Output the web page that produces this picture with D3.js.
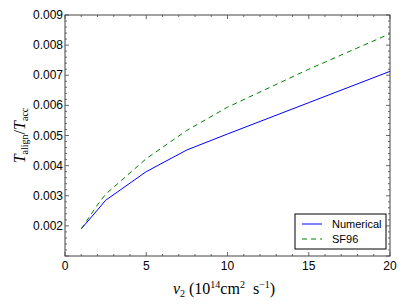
<!DOCTYPE html>
<html><head><meta charset="utf-8">
<script src="https://cdn.jsdelivr.net/npm/d3@7"></script>
<style>body{margin:0;background:#fff}svg{display:block}</style>
</head><body>
<svg id="c" width="407" height="305"></svg>
<script>
const nu2 = [1, 2, 2.5, 5, 7.5, 10, 15, 20];
const numerical = [0.0019, 0.00253, 0.00285, 0.0038, 0.00452, 0.00505, 0.00609, 0.00713];
const sf96 = [0.0019, 0.0027, 0.00305, 0.00423, 0.00517, 0.00594, 0.0072, 0.00838];
const xTicks = [0, 5, 10, 15, 20];
const yTicks = [0.002, 0.003, 0.004, 0.005, 0.006, 0.007, 0.008, 0.009];
const seriesNames = ["Numerical", "SF96"];

const svg = d3.select("#c");
const L = 65, R = 390, T = 15, B = 256;
const x = d3.scaleLinear().domain([0, 20]).range([L, R]);
const y = d3.scaleLinear().domain([0.001, 0.009]).range([B, T]);
const frame = "#444";

// lines
const line = d3.line().x((d, i) => x(nu2[i])).y(d => y(d));
svg.append("path").datum(numerical).attr("d", line)
  .attr("fill", "none").attr("stroke", "#0000ff").attr("stroke-width", 1);
svg.append("path").datum(sf96).attr("d", line)
  .attr("fill", "none").attr("stroke", "#008000").attr("stroke-width", 1)
  .attr("stroke-dasharray", "5,4");

// ticks (inward, all sides)
const g = svg.append("g");
const xMinor = d3.range(0, 20.01, 1);
const yMinor = d3.range(0.001, 0.00901, 0.0002);
xMinor.forEach(v => {
  const len = Math.round(v) % 5 === 0 ? 4 : 2;
  g.append("line").attr("x1", x(v)).attr("x2", x(v)).attr("y1", B).attr("y2", B - len).attr("stroke", frame).attr("stroke-width", 0.8);
  g.append("line").attr("x1", x(v)).attr("x2", x(v)).attr("y1", T).attr("y2", T + len).attr("stroke", frame).attr("stroke-width", 0.8);
});
yMinor.forEach(v => {
  const isMajor = Math.abs(v * 1000 - Math.round(v * 1000)) < 1e-6;
  const len = isMajor ? 4 : 2;
  g.append("line").attr("x1", L).attr("x2", L + len).attr("y1", y(v)).attr("y2", y(v)).attr("stroke", frame).attr("stroke-width", 0.8);
  g.append("line").attr("x1", R).attr("x2", R - len).attr("y1", y(v)).attr("y2", y(v)).attr("stroke", frame).attr("stroke-width", 0.8);
});

// frame
svg.append("rect").attr("x", L).attr("y", T).attr("width", R - L).attr("height", B - T)
  .attr("fill", "none").attr("stroke", frame).attr("stroke-width", 1);

// tick labels
const tf = "'Liberation Sans', Arial, sans-serif";
xTicks.forEach(v => {
  svg.append("text").attr("x", x(v)).attr("y", B + 14).attr("text-anchor", "middle")
    .attr("font-family", tf).attr("font-size", 12).attr("fill", "#000").text(v);
});
yTicks.forEach(v => {
  svg.append("text").attr("x", L - 2).attr("y", y(v) + 4).attr("text-anchor", "end")
    .attr("font-family", tf).attr("font-size", 12).attr("fill", "#000").text(d3.format(".3f")(v));
});

// axis labels
const xl = svg.append("text").attr("x", 224).attr("y", 294).attr("text-anchor", "middle")
  .attr("font-family", "'Liberation Serif', serif").attr("font-size", 16).attr("fill", "#000");
xl.append("tspan").attr("font-style", "italic").text("ν");
xl.append("tspan").attr("font-size", 10).attr("dy", 3).text("2");
xl.append("tspan").attr("dy", -3).text(" (10");
xl.append("tspan").attr("font-size", 10).attr("dy", -6).text("14");
xl.append("tspan").attr("dy", 6).text("cm");
xl.append("tspan").attr("font-size", 10).attr("dy", -6).text("2");
xl.append("tspan").attr("dy", 6).text("\u2002s");
xl.append("tspan").attr("font-size", 10).attr("dy", -6).text("−1");
xl.append("tspan").attr("dy", 6).text(")");

const yl = svg.append("text").attr("transform", `translate(25,${(T + B) / 2}) rotate(-90)`)
  .attr("text-anchor", "middle").attr("font-family", "'Liberation Serif', serif").attr("font-size", 16).attr("fill", "#000");
yl.append("tspan").attr("font-style", "italic").text("T");
yl.append("tspan").attr("font-size", 10).attr("dy", 3).text("align");
yl.append("tspan").attr("dy", -3).text("/");
yl.append("tspan").attr("font-style", "italic").text("T");
yl.append("tspan").attr("font-size", 10).attr("dy", 3).text("acc");

// legend
const lg = svg.append("g");
lg.append("rect").attr("x", 295).attr("y", 214).attr("width", 91).attr("height", 35)
  .attr("fill", "#fff").attr("stroke", "#000").attr("stroke-width", 1);
const styles = [{c: "#0000ff", d: null}, {c: "#008000", d: "5,4"}];
seriesNames.forEach((n, i) => {
  const yy = 224 + i * 15;
  const l = lg.append("line").attr("x1", 302).attr("x2", 322).attr("y1", yy).attr("y2", yy)
    .attr("stroke", styles[i].c).attr("stroke-width", 1);
  if (styles[i].d) l.attr("stroke-dasharray", styles[i].d);
  lg.append("text").attr("x", 332).attr("y", yy + 4).attr("font-family", tf).attr("font-size", 11)
    .attr("fill", "#000").text(n);
});
</script>
</body></html>
